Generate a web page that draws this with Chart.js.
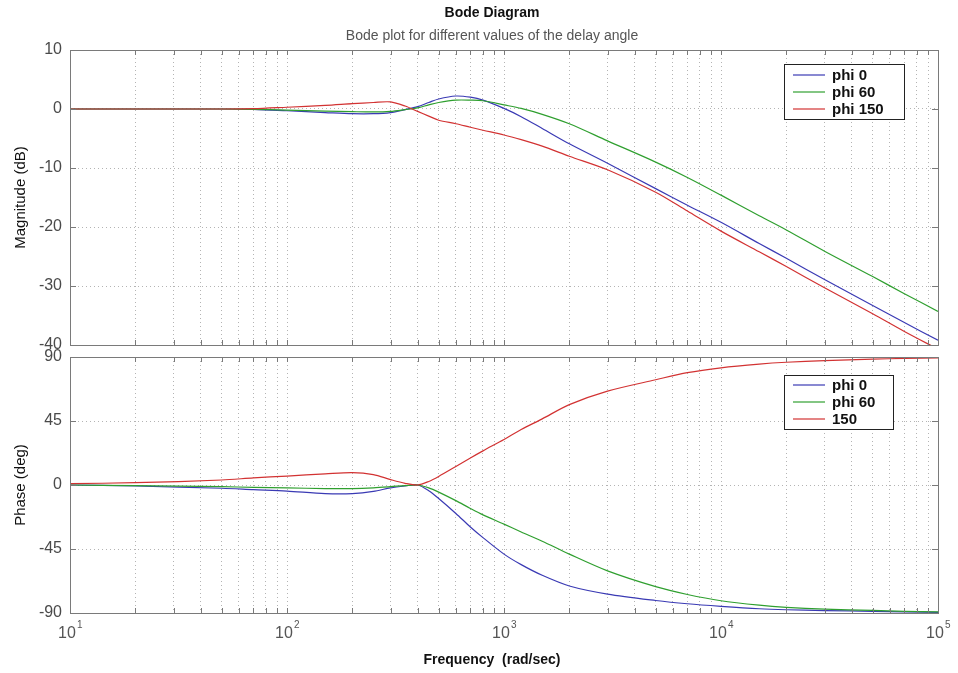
<!DOCTYPE html>
<html>
<head>
<meta charset="utf-8">
<script src="https://cdn.jsdelivr.net/npm/chart.js@4.4.1/dist/chart.umd.min.js"></script>
<style>
  body { margin: 0; background: #fff; font-family: "Liberation Sans", Arial, sans-serif; }
  #page { position: relative; width: 958px; height: 673px; overflow: hidden; }
  .wrap { position: absolute; left: 0; width: 958px; }
  #mag_wrap { top: 0; height: 365px; }
  #phase_wrap { top: 336px; height: 337px; }
  .txt { position: absolute; left: 0; width: 984px; text-align: center; white-space: pre; }
  #title { top: 4px; font-size: 14px; font-weight: bold; color: #111; }
  #subtitle { top: 27px; font-size: 14px; color: #555; }
  #xlabel { top: 651px; font-size: 14px; font-weight: bold; color: #111; }
</style>
</head>
<body>
<div id="page">
  <div class="wrap" id="mag_wrap"><canvas id="mag_chart"></canvas></div>
  <div class="wrap" id="phase_wrap"><canvas id="phase_chart"></canvas></div>
  <div class="txt" id="title">Bode Diagram</div>
  <div class="txt" id="subtitle">Bode plot for different values of the delay angle</div>
  <div class="txt" id="xlabel">Frequency  (rad/sec)</div>
</div>
<script>
// frequency samples (rad/sec)
var freq = [10, 20, 50, 70, 100, 150, 200, 250, 300, 350, 400, 450, 500, 600, 700, 800,
            1000, 1200, 1500, 2000, 3000, 5000, 7000, 10000, 15000, 20000, 30000, 50000, 70000, 100000];

// magnitude (dB)
var mag_phi0   = [0, 0, 0, -0.05, -0.3, -0.6, -0.8, -0.8, -0.6, -0.1, 0.4, 1.1, 1.7, 2.2, 2.0, 1.5,
                  0.1, -1.3, -3.3, -5.9, -9.2, -13.5, -16.3, -19.2, -22.8, -25.3, -28.9, -33.3, -36.2, -39.2];
var mag_phi60  = [0, 0, 0, -0.05, -0.2, -0.35, -0.45, -0.5, -0.4, -0.1, 0.2, 0.7, 1.1, 1.5, 1.5, 1.4,
                  0.7, 0.1, -0.9, -2.5, -5.4, -9.0, -11.6, -14.6, -18.1, -20.5, -24.1, -28.4, -31.3, -34.3];
var mag_phi150 = [0, 0, 0, 0.05, 0.3, 0.6, 0.9, 1.1, 1.2, 0.5, -0.4, -1.2, -1.9, -2.5, -3.1, -3.6,
                  -4.4, -5.2, -6.3, -8.0, -10.3, -14.1, -17.3, -20.7, -24.2, -26.7, -30.3, -34.7, -37.7, -40.7];

// phase (deg)
var ph_phi0   = [0, -0.7, -2.3, -3.3, -4.3, -6.0, -6.0, -4.5, -2.0, -0.7, 0, -4, -9.5, -20, -29.5, -37,
                 -48.6, -56, -63.5, -71, -76.7, -81.2, -83.5, -85.3, -87, -87.7, -88.3, -88.8, -89.2, -89.5];
var ph_phi60  = [0, -0.5, -1.2, -1.6, -2.0, -2.5, -2.5, -2.0, -1.2, -0.4, 0, -2, -5, -11, -16.5, -21,
                 -27.5, -33, -39.5, -48.6, -60.4, -71.5, -77, -81.4, -84.5, -86, -87.3, -88.2, -88.8, -89.2];
var ph_phi150 = [1.0, 1.6, 3.5, 5.0, 6.3, 7.8, 8.7, 7.3, 3.8, 1.2, 0, 2.5, 6, 13, 19, 24,
                 32, 39, 46.5, 56.5, 66, 74, 79, 82.4, 85, 86.3, 87.5, 88.5, 89, 89.4];

var magLabels   = ["phi 0", "phi 60", "phi 150"];
var phaseLabels = ["phi 0", "phi 60", "150"];
var lineColors  = ["#3a3ab4", "#2f9f2f", "#d23232"];

var magTicks   = [-40, -30, -20, -10, 0, 10];
var phaseTicks = [-90, -45, 0, 45, 90];
var decades    = [1, 2, 3, 4, 5];

function points(ys) {
    return freq.map(function(f, i) { return {x: f, y: ys[i]}; });
}

function makeDatasets(labels, series) {
    return series.map(function(ys, i) {
        return {
            label: labels[i],
            data: points(ys),
            borderColor: lineColors[i],
            borderWidth: 1.2,
            pointRadius: 0,
            tension: 0.3,
            order: 3 - i
        };
    });
}

// log ticks at 1..9 of every decade, used for the dotted grid
function logTicks(scale) {
    var t = [];
    for (var d = 10; d < 100000; d *= 10) {
        for (var k = 1; k < 10; k++) t.push({value: d * k});
    }
    t.push({value: 100000});
    scale.ticks = t;
}

// frame, inside tick marks and a boxed legend
function framePlugin(legendBox) {
    return {
        id: 'frame',
        afterDraw: function(chart) {
            var ctx = chart.ctx, a = chart.chartArea;
            var xs = chart.scales.x, ys = chart.scales.y;
            ctx.save();
            ctx.strokeStyle = '#7a7a7a';
            ctx.lineWidth = 1;
            ctx.strokeRect(Math.round(a.left) + 0.5, Math.round(a.top) + 0.5,
                           Math.round(a.right - a.left), Math.round(a.bottom - a.top));
            ctx.beginPath();
            xs.ticks.forEach(function(t) {
                var px = Math.round(xs.getPixelForValue(t.value)) + 0.5;
                ctx.moveTo(px, a.top); ctx.lineTo(px, a.top + 5);
                ctx.moveTo(px, a.bottom); ctx.lineTo(px, a.bottom - 5);
            });
            ys.ticks.forEach(function(t) {
                var py = Math.round(ys.getPixelForValue(t.value)) + 0.5;
                ctx.moveTo(a.left, py); ctx.lineTo(a.left + 6, py);
                ctx.moveTo(a.right, py); ctx.lineTo(a.right - 6, py);
            });
            ctx.stroke();

            // legend
            var b = legendBox;
            ctx.fillStyle = '#fff';
            ctx.fillRect(b.x, b.y, b.w, b.h);
            ctx.strokeStyle = '#222';
            ctx.strokeRect(b.x + 0.5, b.y + 0.5, b.w, b.h);
            ctx.font = 'bold 15px "Liberation Sans", Arial, sans-serif';
            ctx.textBaseline = 'middle';
            ctx.textAlign = 'left';
            chart.data.datasets.forEach(function(ds, i) {
                var ly = b.y + b.rowTop + i * b.rowStep;
                ctx.strokeStyle = ds.borderColor;
                ctx.lineWidth = 1.2;
                ctx.beginPath();
                ctx.moveTo(b.x + 9, ly); ctx.lineTo(b.x + 41, ly);
                ctx.stroke();
                ctx.fillStyle = '#111';
                ctx.fillText(ds.label, b.x + 48, ly + 1);
            });
            ctx.restore();
        }
    };
}

// decade labels 10^n under the bottom axis
var decadeLabels = {
    id: 'decadeLabels',
    afterDraw: function(chart) {
        var ctx = chart.ctx, xs = chart.scales.x, a = chart.chartArea;
        ctx.save();
        ctx.fillStyle = '#555';
        ctx.textBaseline = 'middle';
        decades.forEach(function(n) {
            var px = xs.getPixelForValue(Math.pow(10, n));
            ctx.font = '16px "Liberation Sans", Arial, sans-serif';
            ctx.textAlign = 'center';
            ctx.fillText('10', px - 3, a.bottom + 21);
            var w = ctx.measureText('10').width;
            ctx.font = '10px "Liberation Sans", Arial, sans-serif';
            ctx.textAlign = 'left';
            ctx.fillText(String(n), px - 3 + w / 2 + 1, a.bottom + 12);
        });
        ctx.restore();
    }
};

function makeOptions(yMin, yMax, step, yTitle, xHeight) {
    return {
        responsive: true,
        maintainAspectRatio: false,
        animation: false,
        events: [],
        plugins: { legend: { display: false }, tooltip: { enabled: false } },
        scales: {
            x: {
                type: 'logarithmic',
                min: 10,
                max: 100000,
                afterBuildTicks: logTicks,
                afterFit: function(scale) {
                    scale.height = xHeight;
                    scale.paddingLeft = 0; scale.paddingRight = 0;
                },
                ticks: { display: false },
                grid: { color: '#b4b4b4', lineWidth: 1, drawTicks: false },
                border: { display: false, dash: [1, 3] }
            },
            y: {
                min: yMin,
                max: yMax,
                afterFit: function(scale) {
                    scale.width = 70;
                    scale.paddingTop = 0; scale.paddingBottom = 0;
                },
                ticks: {
                    stepSize: step,
                    padding: 8,
                    color: '#4a4a4a',
                    font: { family: '"Liberation Sans", Arial, sans-serif', size: 16 }
                },
                grid: { color: '#b4b4b4', lineWidth: 1, drawTicks: false },
                border: { display: false, dash: [1, 3] },
                title: {
                    display: true,
                    text: yTitle,
                    color: '#111',
                    padding: { top: 12, bottom: 0 },
                    font: { family: '"Liberation Sans", Arial, sans-serif', size: 15 }
                }
            }
        }
    };
}

// the two canvases overlap a little so the edge labels -40 and 90 are not cut
var magOptions = makeOptions(magTicks[0], magTicks[magTicks.length - 1], 10, 'Magnitude (dB)', 0);
magOptions.layout = { padding: { top: 50, right: 20, bottom: 20, left: 0 } };

var phaseOptions = makeOptions(phaseTicks[0], phaseTicks[phaseTicks.length - 1], 45, 'Phase (deg)', 60);
phaseOptions.layout = { padding: { top: 21, right: 20, bottom: 0, left: 0 } };

var chart_mag = new Chart(document.getElementById('mag_chart'), {
    type: 'line',
    data: { datasets: makeDatasets(magLabels, [mag_phi0, mag_phi60, mag_phi150]) },
    plugins: [framePlugin({x: 784, y: 64, w: 120, h: 55, rowTop: 11, rowStep: 17})],
    options: magOptions
});

var chart_phase = new Chart(document.getElementById('phase_chart'), {
    type: 'line',
    data: { datasets: makeDatasets(phaseLabels, [ph_phi0, ph_phi60, ph_phi150]) },
    plugins: [framePlugin({x: 784, y: 39, w: 109, h: 54, rowTop: 10, rowStep: 17}), decadeLabels],
    options: phaseOptions
});
</script>
</body>
</html>
